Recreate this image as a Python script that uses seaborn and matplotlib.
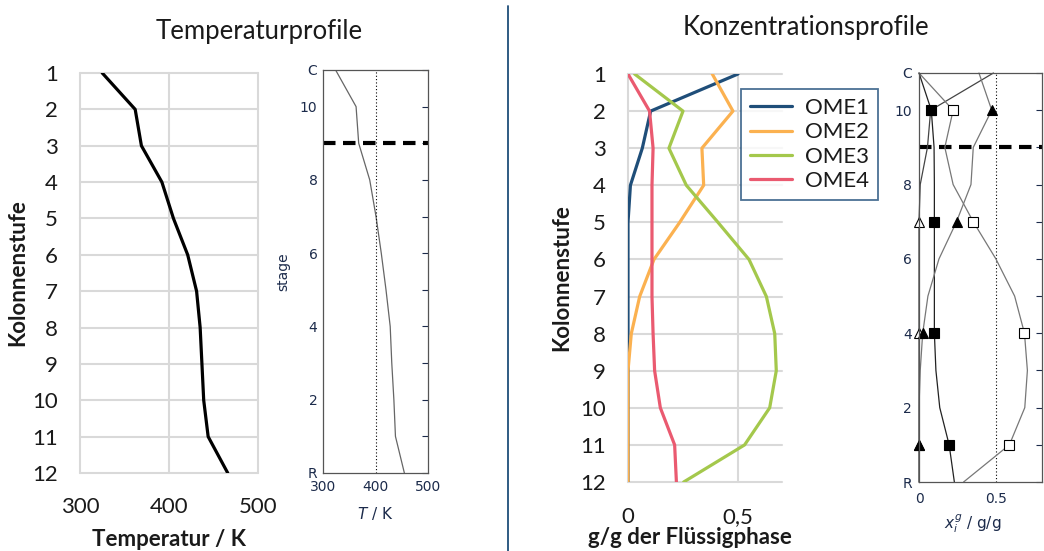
import matplotlib.pyplot as plt
from matplotlib.lines import Line2D
import seaborn as sns

# Messdaten / Excel-Diagramme (Stufe 1 = Kopf, 12 = Sumpf)
stufen = list(range(1, 13))
temperatur = [325, 362, 369, 392, 405, 421, 431, 435, 437, 439, 444, 466]

ome1 = [0.5, 0.103, 0.065, 0.011, 0, 0, 0, 0, 0, 0, 0, 0]
ome2 = [0.383, 0.477, 0.336, 0.344, 0.235, 0.118, 0.053, 0.015, 0, 0, 0, 0]
ome3 = [0.03, 0.25, 0.186, 0.265, 0.409, 0.55, 0.629, 0.667, 0.674, 0.644, 0.53, 0.253]
ome4 = [0, 0.098, 0.114, 0.109, 0.109, 0.109, 0.109, 0.114, 0.121, 0.147, 0.212, 0.22]

# Modell (C = 11 ... R = 0)
modell_stufen = [11, 10, 9, 8, 7, 6, 5, 4, 3, 2, 1, 0]
modell_labels = ['R', '', '2', '', '4', '', '6', '', '8', '', '10', 'C']
modell_T = [324, 363, 368, 389, 401, 411, 420, 428, 431, 435, 438, 455]
modell_ome1 = [0.484, 0.076, 0.055, 0.008, 0, 0, 0, 0, 0, 0, 0, 0]
modell_ome2 = [0.39, 0.473, 0.353, 0.338, 0.244, 0.13, 0.058, 0.024, 0.008, 0, 0, 0]
modell_ome3 = [0.0, 0.222, 0.168, 0.222, 0.353, 0.5, 0.622, 0.686, 0.705, 0.688, 0.588, 0.29]
modell_ome4 = [0.0, 0.08, 0.098, 0.1, 0.1, 0.1, 0.1, 0.1, 0.11, 0.135, 0.196, 0.23]

sns.set_style('white')
plt.rcParams['font.family'] = ['Lato', 'DejaVu Sans']

W, H = 1044, 551
fig = plt.figure(figsize=(W / 100, H / 100), dpi=100)

def box(l, t, r, b):
    return fig.add_axes([l / W, 1 - b / H, (r - l) / W, (b - t) / H])

grid = '#d9d9d9'
navy = '#1f4e79'
txt = '#1a1a1a'
blau = '#1c2b4b'

def excel_style(ax):
    for s in ax.spines.values():
        s.set_visible(False)
    ax.grid(True, color=grid, lw=1.5)
    ax.set_axisbelow(True)
    for gl in ax.get_xgridlines() + ax.get_ygridlines():
        gl.set_clip_on(False)
    ax.tick_params(length=0, labelsize=16, colors=txt)
    ax.tick_params(axis='y', pad=16)
    ax.tick_params(axis='x', pad=17)

# --- Panel 1: Temperaturprofil (Messung) ---
ax1 = box(80, 73, 258, 473)
sns.lineplot(x=temperatur, y=stufen, sort=False, estimator=None, color='black', lw=2.3, ax=ax1)
ax1.set_xlim(300, 500)
ax1.set_ylim(12, 1)
ax1.set_xticks([300, 400, 500])
ax1.set_yticks(stufen)
excel_style(ax1)
ax1.set_xlabel('Temperatur / K', fontsize=16, fontweight='bold', color=txt)
ax1.set_ylabel('Kolonnenstufe', fontsize=16, fontweight='bold', color=txt)
ax1.xaxis.set_label_coords(0.5, -0.14)
ax1.yaxis.set_label_coords(-0.29, 0.5)

# --- Panel 2: Temperaturprofil (Modell) ---
small_font = ['DejaVu Sans']
ax2 = box(323, 70, 428, 473)
sns.lineplot(x=modell_T, y=modell_stufen, sort=False, estimator=None, color='#666666', lw=0.9, ax=ax2)
ax2.axvline(400, color='black', lw=0.8, ls=(0, (1, 2)))
ax2.axhline(9, color='black', lw=3, ls=(0, (3, 1.8)))
ax2.set_xlim(300, 500)
ax2.set_ylim(0, 11)
ax2.set_xticks([300, 400, 500])
ax2.set_yticks(modell_stufen[::-1])
ax2.set_yticklabels(modell_labels, family=small_font)
ax2.set_xticklabels(['300', '400', '500'], family=small_font)
for s in ax2.spines.values():
    s.set_color('#555555')
    s.set_linewidth(0.9)
ax2.tick_params(axis='y', which='both', direction='in', right=True, left=False,
                length=4, labelleft=True, labelsize=10, colors=blau, pad=4)
ax2.tick_params(axis='x', length=0, labelsize=10, colors=blau, pad=5)
ax2.set_ylabel('stage', fontsize=10, family=small_font, color=blau)
ax2.set_xlabel('$T$ / K', fontsize=11, family=small_font, color=blau)
ax2.yaxis.set_label_coords(-0.31, 0.5)
ax2.xaxis.set_label_coords(0.5, -0.08)

# --- Panel 3: Konzentrationsprofil (Messung) ---
ax3 = box(628, 74, 782, 482)
farben = [navy, '#fbb150', '#a4c84c', '#ea5a70']
for werte, name, c in zip([ome1, ome2, ome3, ome4], ['OME1', 'OME2', 'OME3', 'OME4'], farben):
    sns.lineplot(x=werte, y=stufen, sort=False, estimator=None, color=c, lw=2.3,
                 label=name, ax=ax3)
ax3.set_xlim(0, 0.7)
ax3.set_ylim(12, 1)
ax3.set_xticks([0, 0.5])
ax3.set_xticklabels(['0', '0,5'])
ax3.set_yticks(stufen)
excel_style(ax3)
ax3.tick_params(axis='x', pad=18)
ax3.set_xlabel('g/g der Flüssigphase', fontsize=16, fontweight='bold', color=txt)
ax3.set_ylabel('Kolonnenstufe', fontsize=16, fontweight='bold', color=txt)
ax3.xaxis.set_label_coords(0.4, -0.11)
ax3.yaxis.set_label_coords(-0.36, 0.5)
leg = ax3.legend(loc='upper left', bbox_to_anchor=(741 / W, 1 - 89 / H),
                 bbox_transform=fig.transFigure, fontsize=16, frameon=True,
                 fancybox=False, borderaxespad=0, handlelength=1.9,
                 handletextpad=0.6, labelspacing=0.2, borderpad=0.4)
leg.get_frame().set_edgecolor(navy)
leg.get_frame().set_linewidth(1.3)
for t in leg.get_texts():
    t.set_color(txt)

# --- Panel 4: Konzentrationsprofil (Modell) ---
ax4 = box(919, 73, 1042, 482)
ax4.axvline(0.5, color='black', lw=0.8, ls=(0, (1, 2)))
ax4.axhline(9, color='black', lw=3, ls=(0, (3, 1.8)), clip_on=False)
stil = [
    (modell_ome1, '^', 'white', '#444444'),
    (modell_ome3, 's', 'white', '#777777'),
    (modell_ome4, 's', 'black', '#222222'),
    (modell_ome2, '^', 'black', '#777777'),
]
for werte, m, fc, lc in stil:
    sns.lineplot(x=werte, y=modell_stufen, sort=False, estimator=None, color=lc, lw=0.9,
                 marker=m, markevery=slice(1, None, 3), markersize=6.5, mfc=fc,
                 mec='black', mew=0.8, clip_on=False, ax=ax4)
ax4.set_xlim(0, 0.8)
ax4.set_ylim(0, 11)
ax4.set_xticks([0, 0.5])
ax4.set_xticklabels(['0', '0.5'], family=small_font)
ax4.set_yticks(modell_stufen[::-1])
ax4.set_yticklabels(modell_labels, family=small_font)
for s in ax4.spines.values():
    s.set_color('#555555')
    s.set_linewidth(0.9)
ax4.tick_params(axis='y', which='both', direction='in', right=True, left=False,
                length=4, labelleft=True, labelsize=10, colors=blau, pad=5)
ax4.tick_params(axis='x', length=0, labelsize=10, colors=blau, pad=7)
ax4.set_xlabel('$x_i^g$ / g/g', fontsize=11, family=small_font, color=blau)
ax4.xaxis.set_label_coords(0.44, -0.075)

# Titel und Trennlinie
fig.text(259 / W, 1 - 32 / H, 'Temperaturprofile', ha='center', va='center', fontsize=18.5, color=txt)
fig.text(806 / W, 1 - 28 / H, 'Konzentrationsprofile', ha='center', va='center', fontsize=18.5, color=txt)
fig.add_artist(Line2D([508 / W, 508 / W], [0, 1 - 6 / H], color=navy, lw=1.3))

fig.savefig('out.png', dpi=100)
